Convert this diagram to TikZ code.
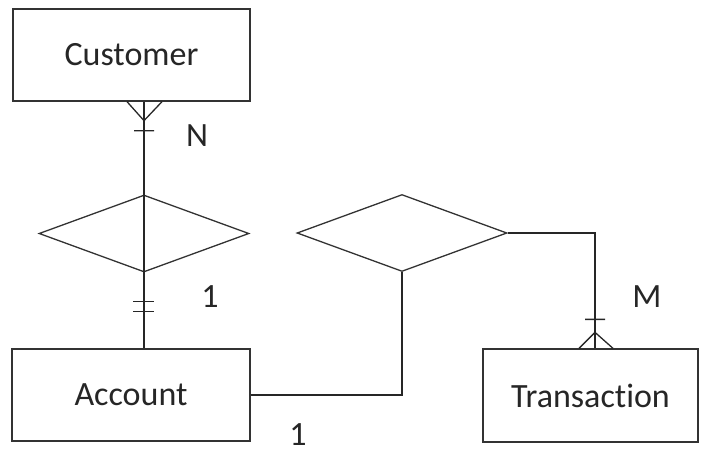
\documentclass[tikz,border=0pt]{standalone}
\usepackage{fontspec}
\setmainfont[Ligatures={NoCommon,NoRare,NoContextual}]{Carlito}
\usetikzlibrary{shapes.geometric,calc}
\tikzset{
    entity/.style = {rectangle,
                    fill=white,
                    draw=black!80,
                    text=black!85,
                    line width=1.3pt,
                    inner sep=0pt},
    relation/.style = {diamond,
                    fill=white,
                    draw=black!80,
                    line width=1.3pt,
                    inner sep=0pt,
                    minimum width=210pt,
                    minimum height=77pt},
    card/.style =   {text=black!85,
                    inner sep=0pt},
    link/.style =   {draw=black!85,
                    line width=1.3pt},
    -,
    every node/.append style={font=\fontsize{34}{40}\selectfont}}

\begin{document}
\begin{tikzpicture}[x=1pt,y=-1pt]
                \useasboundingbox (0,0) rectangle (709,453);
                \node[entity,minimum width=237pt,minimum height=92pt] (Customer) at (131.5,55)   {Customer};
                \node[entity,minimum width=238pt,minimum height=92pt] (Account) at (131,395)     {Account};
                \node[entity,minimum width=215pt,minimum height=93pt] (Transaction) at (590.5,395.5) {Transac\kern0pt tion};
                \node[relation] (Has) at (144,233.5) {};
                \node[relation] (Makes) at (402,233) {};
                \node[card] (N)  at (197,136) {N};
                \node[card] (C1) at (210,297) {1};
                \node[card] (M)  at (647,297) {M};
                \node[card] (A1) at (298,435) {1};
                % customer -- account through the diamond
                \path [link] (Customer.south -| Has.north) -- (Account.north -| Has.south);
                \path [link] ($(Customer.south -| Has.north)+(-17,0)$) -- ++(17,19) -- ++(18,-19)
                             ($(Customer.south -| Has.north)+(-10,29)$) -- ++(20,0);
                \path [link] ($(Account.north -| Has.south)+(-11,-47)$) -- ++(21,0)
                             ($(Account.north -| Has.south)+(-11,-37)$) -- ++(21,0);
                % account -- makes -- transaction
                \path [link] (Account.east) -| (Makes.south);
                \coordinate (T) at (Makes.east -| 595,0);
                \path [link] (Makes.east) -- (T) -- (T |- Transaction.north);
                \path [link] ($(T |- Transaction.north)+(-16,0)$) -- ++(16,-16) -- ++(18,16)
                             ($(T |- Transaction.north)+(-10,-29)$) -- ++(20,0);
        \end{tikzpicture}
\end{document}
